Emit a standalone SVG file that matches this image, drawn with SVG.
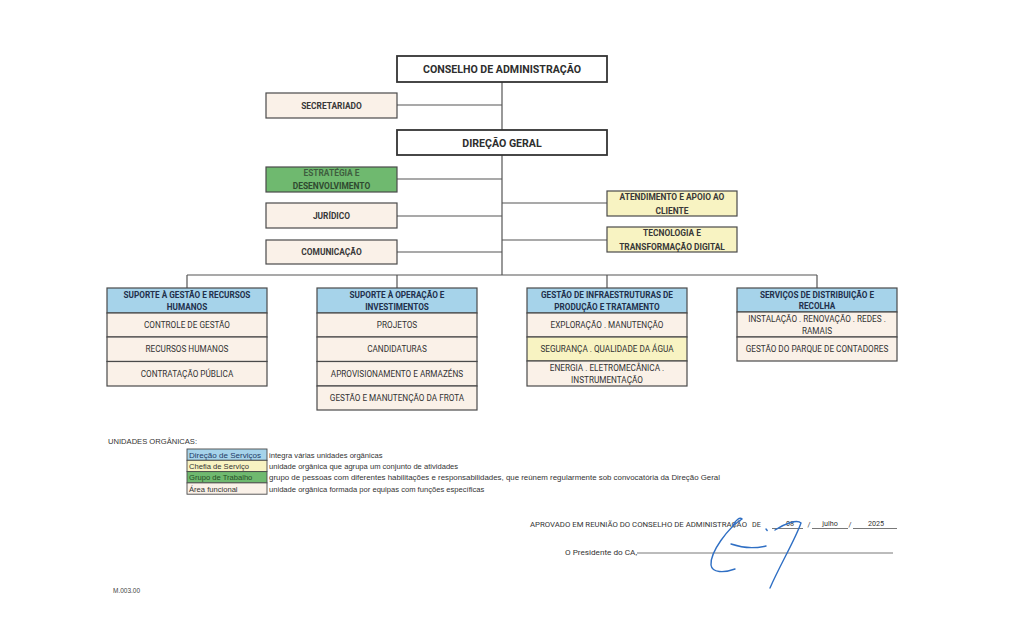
<svg xmlns="http://www.w3.org/2000/svg" width="1024" height="634" viewBox="0 0 1024 634">
<style>
.bx{stroke:#4a4a4a;stroke-width:1.2}
.w{fill:#ffffff;stroke:#333;stroke-width:1.8}
.cr{fill:#faf1e8}
.bl{fill:#a6d3ea}
.ye{fill:#f8f3c2}
.gr{fill:#6fb96f}
.t{font-family:Roboto,"Liberation Sans",sans-serif;text-anchor:middle}
.tt{font-size:10.6px;font-weight:bold;fill:#2e2e2e}
.tb{font-size:8.4px;font-weight:bold;fill:#383838}
.th{font-size:8.2px;font-weight:bold;fill:#22304c}
.tr{font-size:8.2px;fill:#333333}
.lg{font-family:"Liberation Sans",Arial,sans-serif;font-size:7.6px;fill:#333}
.ap{font-family:Roboto,"Liberation Sans",sans-serif;font-size:7.2px;fill:#333}
.cn{stroke:#555;stroke-width:1.2;fill:none}
</style>
<rect width="1024" height="634" fill="#ffffff"/>
<g id="connectors">
<path class="cn" d="M502,82V130M397,105H502M502,155V275M397,179H502M397,216H502M397,252H502M502,203H607M502,240H607M187,275H817M187,275V288M397,275V288M607,275V288M817,275V288"/>
</g>
<g id="conselho">
<rect class="w" x="397" y="56" width="210" height="26"/>
<text class="t tt" x="502" y="73">CONSELHO DE ADMINISTRAÇÃO</text>
</g>
<g id="secretariado">
<rect class="bx cr" x="266" y="93" width="131" height="25"/>
<text class="t tb" x="331.5" y="108.5">SECRETARIADO</text>
</g>
<g id="direcao-geral">
<rect class="w" x="397" y="130" width="210" height="25"/>
<text class="t tt" x="502" y="146.5">DIREÇÃO GERAL</text>
</g>
<g id="estrategia">
<rect class="bx gr" x="266" y="167" width="131" height="25"/>
<text class="t tb" x="331.5" y="176" style="fill:#3f5f3f">ESTRATÉGIA E</text>
<text class="t tb" x="331.5" y="189" style="fill:#2f4a2f">DESENVOLVIMENTO</text>
</g>
<g id="juridico">
<rect class="bx cr" x="266" y="203" width="131" height="25"/>
<text class="t tb" x="331.5" y="218.5">JURÍDICO</text>
</g>
<g id="comunicacao">
<rect class="bx cr" x="266" y="240" width="131" height="24"/>
<text class="t tb" x="331.5" y="255">COMUNICAÇÃO</text>
</g>
<g id="atendimento">
<rect class="bx ye" x="607" y="191" width="130" height="25"/>
<text class="t tb" x="672" y="200">ATENDIMENTO E APOIO AO</text>
<text class="t tb" x="672" y="213.5">CLIENTE</text>
</g>
<g id="tecnologia">
<rect class="bx ye" x="607" y="227" width="130" height="25"/>
<text class="t tb" x="672" y="236">TECNOLOGIA E</text>
<text class="t tb" x="672" y="249.5">TRANSFORMAÇÃO DIGITAL</text>
</g>
<g id="suporte-gestao">
<rect class="bx bl" x="107" y="288" width="160" height="25"/>
<rect class="bx cr" x="107" y="313" width="160" height="24"/>
<rect class="bx cr" x="107" y="337" width="160" height="24.5"/>
<rect class="bx cr" x="107" y="361.5" width="160" height="24.5"/>
<text class="t th" x="187" y="298">SUPORTE À GESTÃO E RECURSOS</text>
<text class="t th" x="187" y="310">HUMANOS</text>
<text class="t tr" x="187" y="328">CONTROLE DE GESTÃO</text>
<text class="t tr" x="187" y="352">RECURSOS HUMANOS</text>
<text class="t tr" x="187" y="376.5">CONTRATAÇÃO PÚBLICA</text>
</g>
<g id="suporte-operacao">
<rect class="bx bl" x="317" y="288" width="160" height="25"/>
<rect class="bx cr" x="317" y="313" width="160" height="24"/>
<rect class="bx cr" x="317" y="337" width="160" height="24.5"/>
<rect class="bx cr" x="317" y="361.5" width="160" height="24.5"/>
<rect class="bx cr" x="317" y="386" width="160" height="24"/>
<text class="t th" x="397" y="298">SUPORTE À OPERAÇÃO E</text>
<text class="t th" x="397" y="310">INVESTIMENTOS</text>
<text class="t tr" x="397" y="328">PROJETOS</text>
<text class="t tr" x="397" y="352">CANDIDATURAS</text>
<text class="t tr" x="397" y="376.5">APROVISIONAMENTO E ARMAZÉNS</text>
<text class="t tr" x="397" y="401">GESTÃO E MANUTENÇÃO DA FROTA</text>
</g>
<g id="gestao-infraestruturas">
<rect class="bx bl" x="527" y="288" width="160" height="25"/>
<rect class="bx cr" x="527" y="313" width="160" height="24"/>
<rect class="bx ye" x="527" y="337" width="160" height="24"/>
<rect class="bx cr" x="527" y="361" width="160" height="25"/>
<text class="t th" x="607" y="298">GESTÃO DE INFRAESTRUTURAS DE</text>
<text class="t th" x="607" y="310">PRODUÇÃO E TRATAMENTO</text>
<text class="t tr" x="607" y="328">EXPLORAÇÃO . MANUTENÇÃO</text>
<text class="t tr" x="607" y="352">SEGURANÇA . QUALIDADE DA ÁGUA</text>
<text class="t tr" x="607" y="371">ENERGIA . ELETROMECÂNICA .</text>
<text class="t tr" x="607" y="383">INSTRUMENTAÇÃO</text>
</g>
<g id="servicos-distribuicao">
<rect class="bx bl" x="737" y="288" width="160" height="24"/>
<rect class="bx cr" x="737" y="312" width="160" height="25"/>
<rect class="bx cr" x="737" y="337" width="160" height="24"/>
<text class="t th" x="817" y="297.5">SERVIÇOS DE DISTRIBUIÇÃO E</text>
<text class="t th" x="817" y="309">RECOLHA</text>
<text class="t tr" x="817" y="322">INSTALAÇÃO . RENOVAÇÃO . REDES .</text>
<text class="t tr" x="817" y="334">RAMAIS</text>
<text class="t tr" x="817" y="352">GESTÃO DO PARQUE DE CONTADORES</text>
</g>
<g id="legenda">
<text class="lg" x="108" y="444" style="font-size:7.6px">UNIDADES ORGÂNICAS:</text>
<rect class="bx bl" x="187" y="449" width="80" height="11.3" style="stroke-width:0.9"/>
<rect class="bx ye" x="187" y="460.3" width="80" height="11.3" style="stroke-width:0.9"/>
<rect class="bx gr" x="187" y="471.6" width="80" height="11.3" style="stroke-width:0.9"/>
<rect class="bx cr" x="187" y="482.9" width="80" height="11.3" style="stroke-width:0.9"/>
<text class="lg" x="189" y="457.6" textLength="72" lengthAdjust="spacingAndGlyphs" style="fill:#1f3a64">Direção de Serviços</text>
<text class="lg" x="189" y="468.9">Chefia de Serviço</text>
<text class="lg" x="189" y="480.2" style="fill:#264d26">Grupo de Trabalho</text>
<text class="lg" x="189" y="491.5">Área funcional</text>
<text class="lg" x="269" y="457.6">integra várias unidades orgânicas</text>
<text class="lg" x="269" y="468.9">unidade orgânica que agrupa um conjunto de atividades</text>
<text class="lg" x="269" y="480.2" textLength="451" lengthAdjust="spacingAndGlyphs">grupo de pessoas com diferentes habilitações e responsabilidades, que reúnem regularmente sob convocatória da Direção Geral</text>
<text class="lg" x="269" y="491.5">unidade orgânica formada por equipas com funções específicas</text>
</g>
<g id="aprovacao">
<text class="ap" x="530" y="527" textLength="217" lengthAdjust="spacingAndGlyphs">APROVADO EM REUNIÃO DO CONSELHO DE ADMINISTRAÇÃO</text>
<text class="ap" x="752" y="527">DE</text>
<path d="M772,528.5H803M812,528.5H848M853,528.5H897M637,553H893" stroke="#555" stroke-width="0.8" fill="none"/>
<text class="ap" x="790" y="526" text-anchor="middle">08</text>
<text class="ap" x="809" y="527" text-anchor="middle">/</text>
<text class="ap" x="830" y="526" text-anchor="middle">julho</text>
<text class="ap" x="850" y="527" text-anchor="middle">/</text>
<text class="ap" x="876" y="526" text-anchor="middle">2025</text>
<text class="ap" x="565" y="555" textLength="72" lengthAdjust="spacingAndGlyphs">O Presidente do CA,</text>
</g>
<g id="assinatura" fill="none" stroke="#2f6fc4" stroke-width="1.4" stroke-linecap="round">
<path d="M733,526 C735,520 740,517 742,519 C728,528 710,552 711,565 C712,573 724,573 735,569"/>
<path d="M731,544 Q748,550 766,546"/>
<path d="M766,529 l1.2,1.5"/>
<path d="M775,530 C784,524 797,519 801,523 C795,540 780,565 770,588"/>
</g>
<text x="113" y="593" style="font-family:'Liberation Sans',Arial,sans-serif;font-size:6.5px;fill:#444">M.003.00</text>
</svg>
